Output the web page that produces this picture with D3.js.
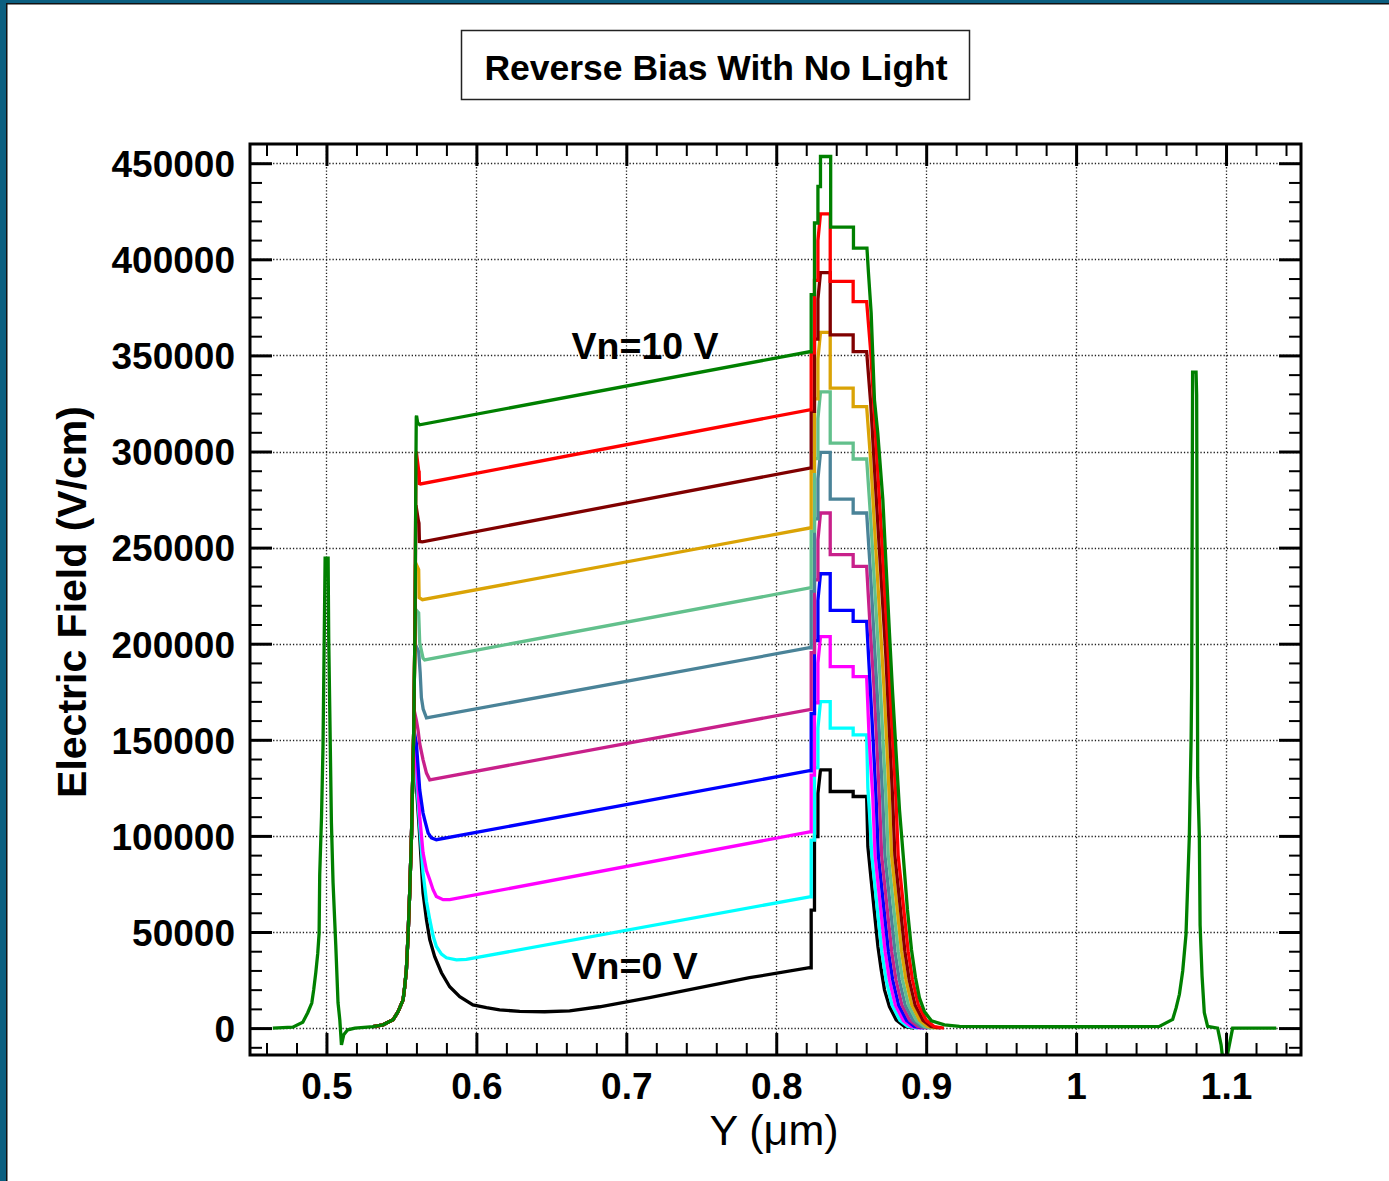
<!DOCTYPE html>
<html><head><meta charset="utf-8">
<script src="https://cdn.jsdelivr.net/npm/d3@7"></script>
<style>body{margin:0;background:#fff;} svg{display:block;}</style>
</head><body><svg id="c" width="1389" height="1181"></svg>
<script>
// ---------------- data ----------------
const titleText = "Reverse Bias With No Light";
const xLabelText = "Y (\u03bcm)";
const yLabelText = "Electric Field (V/cm)";
const xTickVals = [0.5, 0.6, 0.7, 0.8, 0.9, 1.0, 1.1];
const xTickLabels = ["0.5", "0.6", "0.7", "0.8", "0.9", "1", "1.1"];
const yTickVals = [0, 50000, 100000, 150000, 200000, 250000, 300000, 350000, 400000, 450000];
const yTickLabels = ["0", "50000", "100000", "150000", "200000", "250000", "300000", "350000", "400000", "450000"];
const seriesNames = ["Vn=0 V","Vn=1 V","Vn=2 V","Vn=3 V","Vn=4 V","Vn=5 V","Vn=6 V","Vn=7 V","Vn=8 V","Vn=9 V","Vn=10 V"];
const seriesColors = ["#000000","#00ffff","#ff00ff","#0000ff","#c8208a","#4a8398","#62c08c","#daa305","#800000","#ff0000","#008000"];

// spike near 0.5 (visible on top curve)
const spikeLeft = [[0.4642,0],[0.4775,500],[0.4842,3000],[0.4875,8000],[0.4902,13000],[0.4915,20000],[0.4929,29000],[0.4942,39000],[0.4951,49400],[0.4955,79800],[0.4967,110000],[0.4977,146500],[0.4991,244500],[0.5011,244500],[0.5015,203000],[0.5033,107000],[0.5044,75600],[0.5062,43300],[0.5077,13200],[0.5089,4300],[0.5100,-8700],[0.5115,-3500],[0.5142,-900],[0.5190,0],[0.5250,400]];
// common rising edge of the junction
const riseLeft = [[0.5311,800],[0.5377,1700],[0.5444,4300],[0.5478,8600],[0.5511,14700],[0.5522,21600],[0.5533,30300],[0.5544,47700],[0.5555,70200],[0.5567,99700],[0.5575,129200]];
const bundleTop = [[0.5582,155200],[0.5587,186400],[0.5591,212400],[0.5593,240000],[0.5595,270000],[0.5597,297000],[0.5599,318000]];
// spike near 1.08 (visible on top curve)
const spikeRight = [[1.0555,900],[1.0644,4500],[1.0667,10500],[1.0689,17600],[1.0700,23600],[1.0711,29700],[1.0722,39200],[1.0733,48800],[1.0744,74000],[1.0755,99200],[1.0767,149500],[1.0771,179500],[1.0777,341300],[1.0800,341300],[1.0804,329400],[1.0811,130300],[1.0822,99200],[1.0827,53600],[1.0840,27200],[1.0855,8100],[1.0877,900],[1.0944,0],[1.0967,-8700],[1.0978,-16000],[1.1004,-16000],[1.1022,-8700],[1.1044,0],[1.1335,0]];

const vn0 = [[0.5580,140000],[0.5600,125700],[0.5622,99700],[0.5644,70400],[0.5667,56400],[0.5689,46000],[0.5722,37200],[0.5767,28800],[0.5822,21500],[0.5889,16300],[0.5977,12100],[0.6067,10600],[0.6155,9500],[0.6289,8700],[0.6455,8500],[0.6622,9000],[0.6822,11100],[0.7155,15800],[0.7489,21000],[0.7822,26200],[0.8222,31400],
 [0.8233,31400],[0.8233,61400],[0.8255,61400],[0.8255,99700],[0.8278,99700],[0.8278,122200],[0.8295,134400],[0.8360,134400],[0.8360,123100],[0.8513,123100],[0.8513,120500],[0.8603,120500],
 [0.8611,94500],[0.8633,77200],[0.8655,60000],[0.8678,42500],[0.8700,30300],[0.8722,19900],[0.8755,11200],[0.8800,4300],[0.8855,800],[0.8920,0]];
const vn1 = [[0.5580,145000],[0.5600,130000],[0.5622,105000],[0.5644,81000],[0.5667,66000],[0.5689,56400],[0.5711,48000],[0.5733,42500],[0.5767,38500],[0.5800,36600],[0.5867,35500],[0.5933,35700],[0.8222,68300],
 [0.8233,68300],[0.8233,97800],[0.8255,97800],[0.8255,135400],[0.8278,135400],[0.8278,156100],[0.8295,169900],[0.8360,169900],[0.8360,156100],[0.8513,156100],[0.8513,152600],[0.8603,152600],
 [0.8611,125000],[0.8622,112000],[0.8637,90000],[0.8677,60000],[0.8704,40000],[0.8733,25000],[0.8772,12000],[0.8825,4000],[0.8877,800],[0.8942,0]];
const vn2 = [[0.5582,150000],[0.5600,138000],[0.5622,110000],[0.5644,91300],[0.5667,82000],[0.5689,77200],[0.5711,72000],[0.5733,68500],[0.5778,66800],[0.5822,66800],[0.8222,102100],
 [0.8233,102100],[0.8233,131600],[0.8255,131600],[0.8255,169200],[0.8278,169200],[0.8278,189900],[0.8295,203700],[0.8360,203700],[0.8360,188100],[0.8513,188100],[0.8513,182900],[0.8603,182900],
 [0.8620,150000],[0.8644,120000],[0.8659,90000],[0.8699,60000],[0.8726,40000],[0.8755,25000],[0.8794,12000],[0.8847,4000],[0.8899,800],[0.8964,0]];
const vn3 = [[0.5584,155000],[0.5600,148000],[0.5622,124000],[0.5644,112000],[0.5655,108400],[0.5678,101500],[0.5700,99000],[0.5733,98000],[0.8222,133900],
 [0.8233,133900],[0.8233,163600],[0.8255,163600],[0.8255,201600],[0.8278,201600],[0.8278,222500],[0.8295,236400],[0.8360,236400],[0.8360,217300],[0.8513,217300],[0.8513,211600],[0.8603,211600],
 [0.8625,180000],[0.8646,150000],[0.8666,120000],[0.8681,90000],[0.8721,60000],[0.8748,40000],[0.8777,25000],[0.8816,12000],[0.8869,4000],[0.8921,800],[0.8986,0]];
const vn4 = [[0.5586,165000],[0.5600,160000],[0.5611,155000],[0.5622,148000],[0.5644,139700],[0.5667,132700],[0.5689,129200],[0.8222,165700],
 [0.8233,165700],[0.8233,195400],[0.8255,195400],[0.8255,233200],[0.8278,233200],[0.8278,254100],[0.8295,268000],[0.8360,268000],[0.8360,246300],[0.8513,246300],[0.8513,240200],[0.8603,240200],
 [0.8625,210000],[0.8650,180000],[0.8670,150000],[0.8688,120000],[0.8703,90000],[0.8743,60000],[0.8770,40000],[0.8799,25000],[0.8838,12000],[0.8891,4000],[0.8943,800],[0.9008,0]];
const vn5 = [[0.5590,200000],[0.5615,196000],[0.5625,185000],[0.5633,172000],[0.5645,166000],[0.5667,161400],[0.8222,197900],
 [0.8233,197900],[0.8233,227400],[0.8255,227400],[0.8255,265000],[0.8278,265000],[0.8278,285800],[0.8295,299500],[0.8360,299500],[0.8360,275200],[0.8513,275200],[0.8513,268000],[0.8603,268000],
 [0.8630,235000],[0.8655,200000],[0.8680,165000],[0.8710,120000],[0.8725,90000],[0.8765,60000],[0.8792,40000],[0.8821,25000],[0.8860,12000],[0.8913,4000],[0.8965,800],[0.9030,0]];
const vn6 = [[0.5593,218000],[0.5615,216000],[0.5622,200500],[0.5644,192500],[0.5655,191600],[0.8222,229000],
 [0.8233,229000],[0.8233,258600],[0.8255,258600],[0.8255,296300],[0.8278,296300],[0.8278,317100],[0.8295,331000],[0.8360,331000],[0.8360,304400],[0.8513,304400],[0.8513,296100],[0.8603,296100],
 [0.8630,265000],[0.8660,225000],[0.8690,185000],[0.8712,150000],[0.8732,120000],[0.8747,90000],[0.8787,60000],[0.8814,40000],[0.8843,25000],[0.8882,12000],[0.8935,4000],[0.8987,800],[0.9052,0]];
const vn7 = [[0.5595,242000],[0.5615,238500],[0.5618,224000],[0.5640,222900],[0.8222,260200],
 [0.8233,260200],[0.8233,289700],[0.8255,289700],[0.8255,327400],[0.8278,327400],[0.8278,348200],[0.8295,362000],[0.8360,362000],[0.8360,333000],[0.8513,333000],[0.8513,323400],[0.8603,323400],
 [0.8630,295000],[0.8660,255000],[0.8690,215000],[0.8720,175000],[0.8754,120000],[0.8769,90000],[0.8809,60000],[0.8836,40000],[0.8865,25000],[0.8904,12000],[0.8957,4000],[0.9009,800],[0.9074,0]];
const vn8 = [[0.5597,272000],[0.5613,264000],[0.5617,262700],[0.5620,253200],[0.5640,253000],[0.8222,291400],
 [0.8233,291400],[0.8233,320900],[0.8255,320900],[0.8255,358500],[0.8278,358500],[0.8278,379300],[0.8295,393100],[0.8360,393100],[0.8360,360700],[0.8513,360700],[0.8513,352000],[0.8603,352000],
 [0.8630,325000],[0.8660,285000],[0.8695,240000],[0.8730,195000],[0.8776,120000],[0.8791,90000],[0.8831,60000],[0.8858,40000],[0.8887,25000],[0.8926,12000],[0.8979,4000],[0.9031,800],[0.9096,0]];
const vn9 = [[0.5599,300000],[0.5615,290000],[0.5618,289600],[0.5620,283300],[0.5627,283100],[0.8222,321700],
 [0.8233,321700],[0.8233,351300],[0.8255,351300],[0.8255,389000],[0.8278,389000],[0.8278,409800],[0.8295,423600],[0.8360,423600],[0.8360,388500],[0.8513,388500],[0.8513,378000],[0.8603,378000],
 [0.8630,352000],[0.8665,305000],[0.8700,260000],[0.8740,205000],[0.8770,160000],[0.8798,120000],[0.8813,90000],[0.8853,60000],[0.8880,40000],[0.8909,25000],[0.8948,12000],[0.9001,4000],[0.9053,800],[0.9118,0]];
const vn10 = [[0.5601,318600],[0.5608,315000],[0.5622,313900],[0.8222,351900],
 [0.8233,351900],[0.8233,381600],[0.8255,381600],[0.8255,418900],[0.8278,418900],[0.8278,437900],[0.8295,437900],[0.8295,453500],[0.8363,453500],[0.8363,416800],[0.8515,416800],[0.8515,405800],[0.8605,405800],
 [0.8615,393000],[0.8633,372200],[0.8655,326900],[0.8677,309700],[0.8711,274900],[0.8733,240000],[0.8755,205700],[0.8775,176000],[0.8802,139700],[0.8822,113600],[0.8849,87600],[0.8875,61600],[0.8902,40800],[0.8929,26200],[0.8955,15800],[0.8989,8500],[0.9035,3800],[0.9122,1700],[0.9222,900],[0.9500,700],[1.0000,700],[1.0422,800]];
const seriesParts = [vn0, vn1, vn2, vn3, vn4, vn5, vn6, vn7, vn8, vn9, vn10];

// annotation labels: [text, x, y]
const annotations = [["Vn=10 V", 0.6635, 348000], ["Vn=0 V", 0.6635, 25500]];

// ---------------- drawing ----------------
const W = 1389, H = 1181;
const svg = d3.select("#c");
const M = {left: 250, right: 1301, top: 144, bottom: 1055};
const x = d3.scaleLinear().domain([0.449, 1.150]).range([M.left, M.right]);
const y = d3.scaleLinear().domain([-14000, 460000]).range([M.bottom, M.top]);

svg.append("rect").attr("width", W).attr("height", H).attr("fill", "#fff");
// window border (teal)
svg.append("rect").attr("x", 0).attr("y", 0).attr("width", W).attr("height", 3).attr("fill", "#0b5f80");
svg.append("rect").attr("x", 0).attr("y", 0).attr("width", 6).attr("height", H).attr("fill", "#0b5f80");
svg.append("line").attr("x1", 6).attr("x2", W).attr("y1", 3.75).attr("y2", 3.75).attr("stroke", "#111").attr("stroke-width", 1.5);
svg.append("line").attr("x1", 6.75).attr("x2", 6.75).attr("y1", 3).attr("y2", H).attr("stroke", "#111").attr("stroke-width", 1.5);

// title box
svg.append("rect").attr("x", 461.5).attr("y", 30.5).attr("width", 508).attr("height", 69)
  .attr("fill", "none").attr("stroke", "#222").attr("stroke-width", 1.5);
svg.append("text").attr("x", 716).attr("y", 80).attr("text-anchor", "middle")
  .style("font-family", "'Liberation Sans', Arial, sans-serif").style("font-weight", "bold").style("font-size", "35.5px")
  .text(titleText);

// grid (dotted)
const grid = svg.append("g");
grid.selectAll("line.gx").data(xTickVals).join("line")
  .attr("x1", d => Math.round(x(d)) + 0.5).attr("x2", d => Math.round(x(d)) + 0.5)
  .attr("y1", M.top).attr("y2", M.bottom)
  .attr("stroke", "#222").attr("stroke-width", 1.3).attr("stroke-dasharray", "1.3,2");
grid.selectAll("line.gy").data(yTickVals).join("line")
  .attr("y1", d => Math.round(y(d)) + 0.5).attr("y2", d => Math.round(y(d)) + 0.5)
  .attr("x1", M.left).attr("x2", M.right)
  .attr("stroke", "#222").attr("stroke-width", 1.3).attr("stroke-dasharray", "1.3,2");

// curves
svg.append("clipPath").attr("id", "clip").append("rect")
  .attr("x", M.left).attr("y", M.top).attr("width", M.right - M.left).attr("height", M.bottom - M.top);
const line = d3.line().x(d => x(d[0])).y(d => y(d[1]));
const curves = seriesParts.map((part, k) => {
  const peak = part[0];
  const top = bundleTop.filter(p => p[1] < peak[1] && p[0] < peak[0]);
  let pts = riseLeft.concat(top, part);
  if (k === seriesParts.length - 1) pts = spikeLeft.concat(pts, spikeRight);
  return {name: seriesNames[k], color: seriesColors[k], pts};
});
svg.append("g").attr("clip-path", "url(#clip)")
  .selectAll("path").data(curves).join("path")
  .attr("d", d => line(d.pts)).attr("fill", "none")
  .attr("stroke", d => d.color).attr("stroke-width", 3.3)
  .attr("stroke-linejoin", "miter").attr("stroke-miterlimit", 2);

// minor/major ticks
const xMinor = d3.range(23, 58).filter(i => i % 5 !== 0).map(i => i / 50);
const yMinor = d3.range(-1, 46).filter(i => i % 5 !== 0).map(i => i * 10000);
function styleAxis(g, w) {
  g.select(".domain").remove();
  g.selectAll(".tick line").attr("stroke", "#000").attr("stroke-width", w);
  g.selectAll(".tick text").remove();
}
[[d3.axisTop, M.bottom], [d3.axisBottom, M.top]].forEach(([ax, pos]) => {
  svg.append("g").attr("transform", `translate(0,${pos})`)
    .call(ax(x).tickValues(xTickVals).tickSize(22).tickFormat("")).call(g => styleAxis(g, 3));
  svg.append("g").attr("transform", `translate(0,${pos})`)
    .call(ax(x).tickValues(xMinor).tickSize(12).tickFormat("")).call(g => styleAxis(g, 2));
});
[[d3.axisRight, M.left], [d3.axisLeft, M.right]].forEach(([ax, pos]) => {
  svg.append("g").attr("transform", `translate(${pos},0)`)
    .call(ax(y).tickValues(yTickVals).tickSize(22).tickFormat("")).call(g => styleAxis(g, 3));
  svg.append("g").attr("transform", `translate(${pos},0)`)
    .call(ax(y).tickValues(yMinor).tickSize(12).tickFormat("")).call(g => styleAxis(g, 2));
});

// frame
svg.append("rect").attr("x", M.left).attr("y", M.top).attr("width", M.right - M.left).attr("height", M.bottom - M.top)
  .attr("fill", "none").attr("stroke", "#000").attr("stroke-width", 3);

// tick labels
const font = "'Liberation Sans', Arial, sans-serif";
const xl = svg.append("g").attr("transform", `translate(0,${M.bottom})`)
  .call(d3.axisBottom(x).tickValues(xTickVals).tickSize(0).tickPadding(0).tickFormat((d, i) => xTickLabels[i]));
xl.select(".domain").remove();
xl.selectAll(".tick text").attr("y", 44).attr("dy", 0).attr("fill", "#000")
  .style("font-family", font).style("font-weight", "bold").style("font-size", "37px");
const yl = svg.append("g").attr("transform", `translate(${M.left},0)`)
  .call(d3.axisLeft(y).tickValues(yTickVals).tickSize(0).tickPadding(15).tickFormat((d, i) => yTickLabels[i]));
yl.select(".domain").remove();
yl.selectAll(".tick text").attr("dy", "0.36em").attr("fill", "#000")
  .style("font-family", font).style("font-weight", "bold").style("font-size", "37px");

// axis titles
svg.append("text").attr("x", 774).attr("y", 1145).attr("text-anchor", "middle")
  .style("font-family", font).style("font-size", "43px").text(xLabelText);
svg.append("text").attr("transform", "translate(86,602) rotate(-90)").attr("text-anchor", "middle")
  .style("font-family", font).style("font-weight", "bold").style("font-size", "41px").text(yLabelText);

// annotations
svg.selectAll("text.ann").data(annotations).join("text").attr("class", "ann")
  .attr("x", d => x(d[1])).attr("y", d => y(d[2]))
  .style("font-family", font).style("font-weight", "bold").style("font-size", "37.5px")
  .text(d => d[0]);
</script></body></html>
